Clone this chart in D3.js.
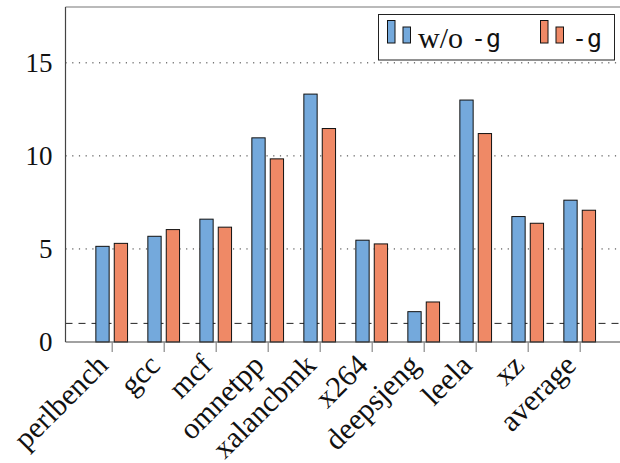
<!DOCTYPE html>
<html>
<head>
<meta charset="utf-8">
<script src="https://cdn.jsdelivr.net/npm/d3@7"></script>
<style>
  html, body { margin: 0; padding: 0; background: #fff; }
  svg { display: block; }
  .serif { font-family: "Liberation Serif", serif; }
  .mono { font-family: "DejaVu Sans Mono", monospace; }
</style>
</head>
<body>
<svg id="chart" width="620" height="463"></svg>
<script>
const categories = ["perlbench", "gcc", "mcf", "omnetpp", "xalancbmk", "x264", "deepsjeng", "leela", "xz", "average"];
const seriesNames = ["w/o", "-g"];
const withoutG = [5.14, 5.68, 6.60, 10.97, 13.32, 5.47, 1.63, 13.00, 6.74, 7.62];
const withG    = [5.30, 6.04, 6.17, 9.84, 11.47, 5.27, 2.15, 11.20, 6.38, 7.08];
const yTicks = [0, 5, 10, 15];
const gridTicks = [5, 10, 15];
const refValue = 1;

(function () {
const svg = d3.select("#chart");
const pL = 65.5, pT = 7, pB = 342, pR = 626.5;

const y = d3.scaleLinear().domain([0, 18]).range([pB, pT]);
const x = d3.scalePoint().domain(categories).range([111.7, 579.7]);

// grid lines
svg.append("g").selectAll("line").data(gridTicks).join("line")
  .attr("x1", pL).attr("x2", pR)
  .attr("y1", d => y(d)).attr("y2", d => y(d))
  .attr("stroke", "#333").attr("stroke-width", 1)
  .attr("stroke-dasharray", "1.2,5.5");

// reference dashed line
svg.append("line")
  .attr("x1", pL).attr("x2", pR)
  .attr("y1", y(refValue)).attr("y2", y(refValue))
  .attr("stroke", "#222").attr("stroke-width", 1)
  .attr("stroke-dasharray", "7,6");

// bars
const bw = 13.3, off = 9.2;
const series = [
  { vals: withoutG, color: "#74a9dc", dx: -off },
  { vals: withG, color: "#ef8966", dx: off }
];
series.forEach(s => {
  svg.append("g").selectAll("rect").data(categories).join("rect")
    .attr("x", (d) => x(d) + s.dx - bw / 2)
    .attr("width", bw)
    .attr("y", (d, i) => y(s.vals[i]))
    .attr("height", (d, i) => pB - y(s.vals[i]))
    .attr("fill", s.color)
    .attr("stroke", "#111").attr("stroke-width", 1);
});

// axes frame
svg.append("line").attr("x1", pL).attr("x2", pR).attr("y1", pT).attr("y2", pT)
  .attr("stroke", "#777").attr("stroke-width", 1.2);
svg.append("line").attr("x1", pL).attr("x2", pL).attr("y1", pT).attr("y2", pB)
  .attr("stroke", "#444").attr("stroke-width", 1.2);
svg.append("line").attr("x1", pL).attr("x2", pR).attr("y1", pB).attr("y2", pB)
  .attr("stroke", "#444").attr("stroke-width", 1.2);

// y axis tick labels
const yAxis = d3.axisLeft(y).tickValues(yTicks).tickSize(0).tickPadding(13).tickFormat(d3.format("d"));
const ya = svg.append("g").attr("transform", `translate(${pL},0)`).call(yAxis);
ya.select(".domain").remove();
ya.attr("font-family", null).attr("font-size", null);
ya.selectAll("text").attr("class", "serif").style("font-size", "27px").attr("fill", "#111");

// x axis ticks
const xAxis = d3.axisBottom(x).tickSize(10).tickFormat("");
const xa = svg.append("g").attr("transform", `translate(0,${pB})`).call(xAxis);
xa.select(".domain").remove();
xa.selectAll(".tick line").attr("stroke", "#888").attr("stroke-width", 1.2);

// x labels rotated
svg.append("g").selectAll("text").data(categories).join("text")
  .attr("class", "serif")
  .attr("transform", d => `translate(${x(d) - 2},${pB + 25}) rotate(-45)`)
  .attr("text-anchor", "end")
  .style("font-size", "30px").attr("fill", "#111")
  .text(d => d);

// legend
const lg = svg.append("g");
lg.append("rect").attr("x", 378.5).attr("y", 14.5).attr("width", 236).attr("height", 45.5)
  .attr("fill", "#fff").attr("stroke", "#222").attr("stroke-width", 1);
const legendItems = [
  { name: seriesNames[0], color: "#74a9dc", x0: 387.5 },
  { name: seriesNames[1], color: "#ef8966", x0: 540.5 }
];
legendItems.forEach((it) => {
  lg.append("rect").attr("x", it.x0).attr("y", 20.5).attr("width", 7.5).attr("height", 22.5)
    .attr("fill", it.color).attr("stroke", "#111").attr("stroke-width", 1);
  lg.append("rect").attr("x", it.x0 + 15.5).attr("y", 27).attr("width", 7.5).attr("height", 16)
    .attr("fill", it.color).attr("stroke", "#111").attr("stroke-width", 1);
});
const t1 = lg.append("text").attr("x", 418).attr("y", 48).attr("fill", "#111");
t1.append("tspan").attr("class", "serif").style("font-size", "30px").text("w/o");
t1.append("tspan").attr("class", "mono").attr("x", 471).attr("y", 47).style("font-size", "25px").text("-g");
lg.append("text").attr("x", 572).attr("y", 47).attr("fill", "#111")
  .attr("class", "mono").style("font-size", "25px").text("-g");
})();
</script>
</body>
</html>
